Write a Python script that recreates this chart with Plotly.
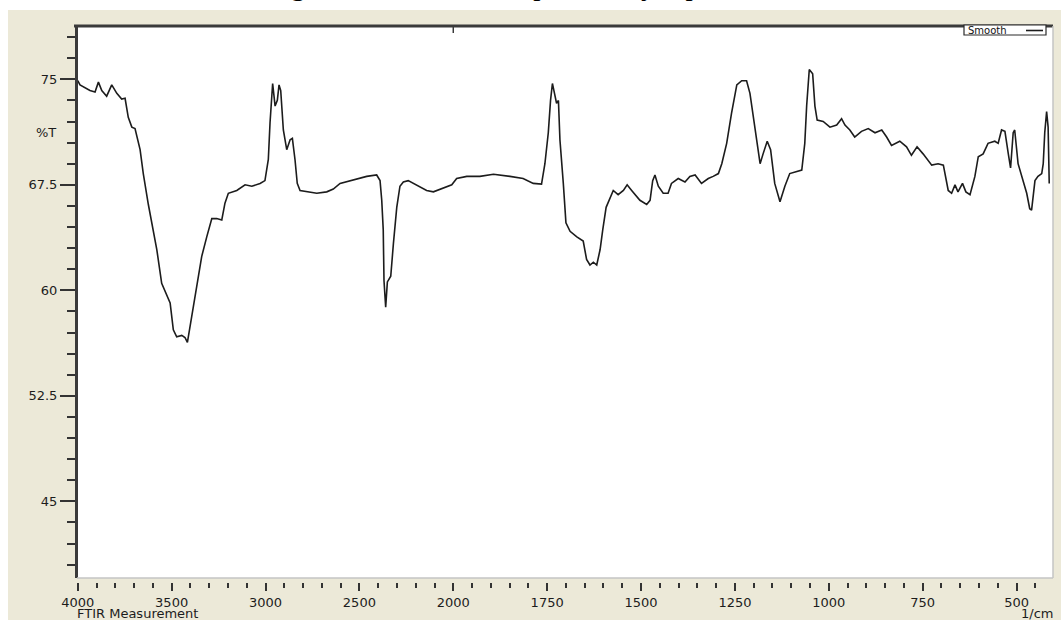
import numpy as np
import plotly.graph_objects as go

# FTIR spectrum: wavenumber (1/cm) and transmittance (%T)
wavenumber = [
    4000, 3988, 3935, 3908, 3890, 3872, 3846, 3819, 3792, 3766, 3748, 3731, 3712,
    3695, 3668, 3651, 3624, 3606, 3579, 3553, 3526, 3508, 3491, 3473, 3446, 3429,
    3416, 3393, 3366, 3340, 3313, 3286, 3260, 3233, 3216, 3198, 3153, 3109, 3073,
    3029, 3003, 2985, 2976, 2962, 2949, 2937, 2928, 2919, 2905, 2887, 2869, 2857,
    2843, 2831, 2816, 2781, 2727, 2674, 2639, 2603, 2550, 2497, 2461, 2408, 2390,
    2381, 2373, 2369, 2360, 2351, 2333, 2319, 2301, 2284, 2266, 2240, 2195, 2142,
    2106, 2053, 2008, 1991, 1964, 1929, 1893, 1849, 1814, 1787, 1765, 1756, 1747,
    1741, 1736, 1732, 1725, 1720, 1716, 1707, 1700, 1689, 1671, 1654, 1645, 1636,
    1627, 1618, 1609, 1602, 1593, 1574, 1561, 1547, 1537, 1525, 1503, 1485, 1476,
    1469, 1463, 1454, 1441, 1428, 1419, 1401, 1383, 1370, 1356, 1339, 1321, 1308,
    1294, 1285, 1272, 1259, 1245, 1232, 1219, 1210, 1201, 1194, 1183, 1175, 1164,
    1155, 1144, 1130, 1117, 1104, 1090, 1072, 1064, 1059, 1052, 1043, 1037, 1031,
    1015, 997, 979, 966, 957, 944, 931, 913, 895, 877, 859, 846, 833, 811, 793,
    780, 765, 749, 726, 709, 695, 682, 673, 664, 656, 644, 635, 624, 611, 602,
    589, 576, 558, 549, 540, 531, 522, 516, 509, 505, 496, 487, 473, 465, 460,
    451, 443, 433, 429, 425, 420, 416, 413,
]
transmittance = [
    74.9, 74.6, 74.2, 74.1, 74.8, 74.2, 73.8, 74.6, 74.0, 73.6, 73.65, 72.3, 71.6,
    71.5, 70.0, 68.3, 66.1, 64.8, 62.9, 60.5, 59.7, 59.1, 57.2, 56.7, 56.8, 56.65,
    56.3, 58.1, 60.5, 62.4, 63.8, 65.1, 65.1, 65.0, 66.2, 66.9, 67.1, 67.5, 67.4,
    67.6, 67.8, 69.3, 71.9, 74.7, 73.1, 73.5, 74.6, 74.2, 71.4, 70.0, 70.7, 70.8,
    69.3, 67.6, 67.1, 67.0, 66.9, 67.0, 67.2, 67.6, 67.8, 67.95, 68.1, 68.2, 67.8,
    66.4, 64.3, 60.7, 58.8, 60.6, 61.0, 63.3, 65.9, 67.4, 67.7, 67.8, 67.5, 67.1,
    67.0, 67.3, 67.5, 67.95, 68.1, 68.1, 68.25, 68.1, 67.95, 67.6, 67.55, 69.0, 71.2,
    73.5, 74.7, 74.2, 73.3, 73.5, 70.7, 67.6, 64.8, 64.2, 63.8, 63.5, 62.2, 61.8,
    62.0, 61.8, 62.9, 64.3, 65.9, 67.1, 66.8, 67.1, 67.5, 67.1, 66.4, 66.1, 66.4,
    67.8, 68.2, 67.4, 66.9, 66.9, 67.6, 67.95, 67.7, 68.1, 68.2, 67.6, 67.95, 68.1,
    68.3, 69.0, 70.45, 72.6, 74.6, 74.9, 74.9, 74.0, 72.3, 70.9, 69.0, 69.7, 70.6,
    70.0, 67.6, 66.3, 67.4, 68.3, 68.4, 68.55, 70.45, 73.1, 75.7, 75.4, 73.1, 72.1,
    72.0, 71.6, 71.75, 72.2, 71.75, 71.4, 70.9, 71.3, 71.5, 71.2, 71.4, 70.9, 70.3,
    70.6, 70.2, 69.6, 70.2, 69.7, 68.9, 69.0, 68.9, 67.1, 66.9, 67.5, 67.0, 67.6,
    67.0, 66.8, 68.1, 69.5, 69.7, 70.45, 70.6, 70.45, 71.4, 71.3, 69.7, 68.7, 71.2,
    71.4, 69.0, 68.1, 66.9, 65.8, 65.7, 67.8, 68.1, 68.3, 69.0, 71.2, 72.7, 71.6,
    67.6,
]

x_tick_labels = [4000, 3500, 3000, 2500, 2000, 1750, 1500, 1250, 1000, 750, 500]
y_tick_values = [45, 52.5, 60, 67.5, 75]
y_tick_labels = ["45", "52.5", "60", "67.5", "75"]


def to_axis(w):
    """Map wavenumber to axis units; the span above 2000 1/cm is drawn at half scale."""
    w = np.asarray(w, dtype=float)
    return np.where(w >= 2000, (4000 - w) / 2.0, 1000 + (2000 - w))


W, H = 1061, 620
L, R, T, B = 77, 8, 25, 38
PW, PH = W - L - R, H - T - B


def px(x):
    return (x - L) / PW


def py(y):
    return (H - B - y) / PH


BEIGE = "#ECE9D8"
INK = "#1c1c1c"
FONT = "DejaVu Sans"

fig = go.Figure()
fig.add_trace(go.Scatter(
    x=to_axis(wavenumber), y=transmittance, mode="lines",
    line=dict(color=INK, width=1.6), name="Smooth", showlegend=False,
    hoverinfo="skip",
))

shapes = [
    # window background
    dict(type="rect", xref="paper", yref="paper", x0=px(8), x1=px(W + 2),
         y0=py(H + 2), y1=py(10), fillcolor=BEIGE, line=dict(width=0), layer="below"),
    # white plotting box
    dict(type="rect", xref="paper", yref="paper", x0=0, x1=1, y0=py(578), y1=1,
         fillcolor="white", line=dict(width=0), layer="below"),
    # sunken frame: dark top/left, light bottom/right
    dict(type="line", xref="paper", yref="paper", x0=px(74), x1=px(1053), y0=py(26), y1=py(26),
         line=dict(color="#3a3a3a", width=3)),
    dict(type="line", xref="paper", yref="paper", x0=px(76.5), x1=px(76.5), y0=py(578), y1=py(25),
         line=dict(color="#3a3a3a", width=3)),
    dict(type="line", xref="paper", yref="paper", x0=px(77), x1=px(1053), y0=py(578), y1=py(578),
         line=dict(color="#c4c4c4", width=1.5)),
    dict(type="line", xref="paper", yref="paper", x0=px(1053), x1=px(1053), y0=py(578), y1=py(26),
         line=dict(color="#c4c4c4", width=1.5)),
    # scale-change marker at 2000 1/cm
    dict(type="line", xref="x", yref="paper", x0=1000, x1=1000, y0=py(33), y1=py(27),
         line=dict(color="#3a3a3a", width=1.5)),
    # legend box
    dict(type="rect", xref="paper", yref="paper", x0=px(964), x1=px(1046), y0=py(35), y1=py(25),
         fillcolor="white", line=dict(color="#2a2a2a", width=1.2)),
    dict(type="line", xref="paper", yref="paper", x0=px(1026), x1=px(1043), y0=py(30.5), y1=py(30.5),
         line=dict(color=INK, width=1.6)),
]

annotations = [
    dict(text="%T", xref="paper", yref="paper", x=px(46), y=py(132), xanchor="center",
         yanchor="middle", showarrow=False, font=dict(family=FONT, size=13, color=INK)),
    dict(text="FTIR Measurement", xref="paper", yref="paper", x=px(77), y=py(613),
         xanchor="left", yanchor="middle", showarrow=False, borderpad=0, borderwidth=0,
         font=dict(family=FONT, size=13, color=INK)),
    dict(text="1/cm", xref="paper", yref="paper", x=px(1053), y=py(613),
         xanchor="right", yanchor="middle", showarrow=False, borderpad=0, borderwidth=0,
         font=dict(family=FONT, size=13, color=INK)),
    dict(text="Smooth", xref="paper", yref="paper", x=px(967), y=py(30),
         xanchor="left", yanchor="middle", showarrow=False, borderpad=0,
         font=dict(family=FONT, size=10, color="#111")),
    dict(text="These results are in agreement with those previously reported [15-17].",
         xref="paper", yref="paper", x=px(44), y=py(3), xanchor="left", yanchor="bottom",
         showarrow=False, font=dict(family="Liberation Serif", size=29, color="black")),
]

fig.update_layout(
    width=W, height=H,
    margin=dict(l=L, r=R, t=T, b=B, pad=0),
    paper_bgcolor="white", plot_bgcolor=BEIGE,
    shapes=shapes, annotations=annotations,
    font=dict(family=FONT, size=13, color=INK),
    showlegend=False,
)

fig.update_xaxes(
    range=[-2, 2597], showgrid=False, zeroline=False, showline=False,
    tickmode="array", tickvals=to_axis(x_tick_labels), ticktext=[str(v) for v in x_tick_labels],
    ticks="outside", ticklen=8, tickwidth=2, tickcolor="#333",
    tickfont=dict(family=FONT, size=13, color=INK),
    minor=dict(tickmode="linear", tick0=0, dtick=50, ticks="outside", ticklen=5,
               tickwidth=2, tickcolor="#333", showgrid=False),
)
fig.update_yaxes(
    range=[39.27, 78.86], showgrid=False, zeroline=False, showline=False,
    tickmode="array", tickvals=y_tick_values, ticktext=y_tick_labels,
    ticks="outside", ticklen=16, tickwidth=2, tickcolor="#333",
    tickfont=dict(family=FONT, size=13, color=INK),
    minor=dict(tickmode="linear", tick0=45, dtick=1.5, ticks="outside", ticklen=9,
               tickwidth=2, tickcolor="#333", showgrid=False),
)

fig.write_html("out.html")
